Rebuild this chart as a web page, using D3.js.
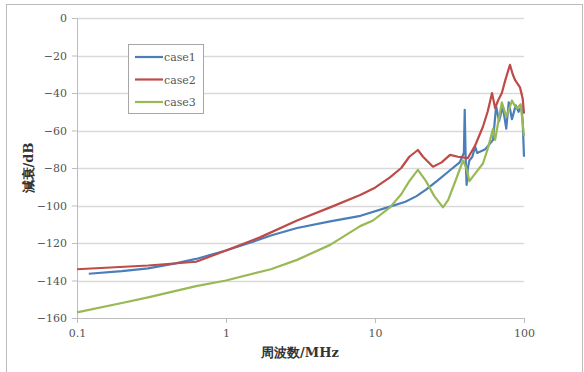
<!DOCTYPE html>
<html>
<head>
<meta charset="utf-8">
<script src="https://cdn.jsdelivr.net/npm/d3@7"></script>
<style>
  body { margin: 0; background: #fff; }
</style>
</head>
<body>
<svg width="584" height="372"></svg>
<script>
// frequency MHz, attenuation dB
var case1 = [[0.12,-136.4],[0.2,-135],[0.3,-133.5],[0.45,-131],[0.63,-128.5],[1,-124],[1.5,-119.5],[2,-116],[3,-112],[5,-108.5],[8,-105.5],[12.6,-100.6],[16,-98],[19,-95],[22,-91.5],[26,-87],[31,-82],[37,-77],[39.5,-72],[40,-49],[40.6,-75],[41.2,-89],[42,-80],[43,-76],[45,-74],[47,-68.6],[48.5,-72],[55,-70],[62,-65],[65,-47],[68,-55],[72,-47],[76,-59],[79,-45],[83,-54],[88,-46.6],[92,-50],[96,-47],[98,-55],[100,-74]];
var case2 = [[0.1,-134],[0.3,-132],[0.63,-130],[1,-124],[1.69,-117],[3,-108],[5,-101],[7.95,-94.4],[10,-90.5],[12.6,-85],[15,-80],[17,-74],[19.4,-70.4],[21,-74],[24.5,-79.3],[28,-77],[31.9,-73],[36,-74],[42,-74.7],[47,-68],[53,-58],[57,-50],[59,-45],[61,-40],[64,-48],[67,-44],[71,-40],[75,-33],[80.5,-25],[84,-30],[87,-33],[94,-37],[98,-43],[100,-51]];
var case3 = [[0.1,-157],[0.2,-152],[0.3,-149],[0.63,-143],[1,-140],[2,-134],[3,-129],[5,-121],[7.95,-111],[9.7,-108],[12.6,-101],[15,-94],[17,-87],[19.4,-81],[22,-87],[25,-95],[28.6,-101],[31,-97],[35,-86],[39,-76],[41,-80],[43,-87],[47,-83],[53,-77.6],[57,-70],[62,-59],[64,-65],[67,-56],[71,-45],[76,-52.6],[80,-48],[83,-44],[87,-47],[90,-48],[95,-46],[100,-63]];
var seriesNames = ["case1", "case2", "case3"];
var colors = ["#4a7ebb", "#be4b48", "#98b954"];
var xTicks = [0.1, 1, 10, 100];
var yTicks = [0, -20, -40, -60, -80, -100, -120, -140, -160];

var serif = "DejaVu Serif, Liberation Serif, serif";

var svg = d3.select("svg");
var margin = { left: 77, top: 18, right: 60, bottom: 54 };
var width = 584 - margin.left - margin.right;
var height = 372 - margin.top - margin.bottom;

svg.append("rect")
    .attr("x", 6.5).attr("y", 4.5)
    .attr("width", 576).attr("height", 380)
    .attr("fill", "none").attr("stroke", "#bcbcbc");

var g = svg.append("g")
    .attr("transform", "translate(" + margin.left + "," + margin.top + ")");

var x = d3.scaleLog().domain([0.1, 100]).range([0, width]);
var y = d3.scaleLinear().domain([-160, 0]).range([height, 0]);

// gridlines
g.selectAll(".grid")
    .data(yTicks.slice(0, -1))
    .enter().append("line")
    .attr("x1", 0).attr("x2", width)
    .attr("y1", function (d) { return Math.round(y(d)) + 0.5; })
    .attr("y2", function (d) { return Math.round(y(d)) + 0.5; })
    .attr("stroke", "#d9d9d9").attr("stroke-width", 1.5);

var yAxis = g.append("g")
    .call(d3.axisLeft(y).tickValues(yTicks).tickSize(5).tickPadding(5).tickFormat(d3.format("d")));
var xAxis = g.append("g")
    .attr("transform", "translate(0," + height + ")")
    .call(d3.axisBottom(x).tickValues(xTicks).tickSize(5).tickPadding(6).tickFormat(function (d) { return String(d); }));
[yAxis, xAxis].forEach(function (a) {
    a.attr("font-family", serif).attr("font-size", 11);
    a.selectAll("path, line").attr("stroke", "#bdbdbd");
    a.selectAll("text").attr("fill", "#555");
});

var line = d3.line()
    .x(function (d) { return x(d[0]); })
    .y(function (d) { return y(d[1]); });

[case1, case2, case3].forEach(function (data, i) {
    g.append("path")
        .datum(data)
        .attr("fill", "none")
        .attr("stroke", colors[i])
        .attr("stroke-width", 2.2)
        .attr("stroke-linejoin", "round")
        .attr("d", line);
});

svg.append("text")
    .attr("x", 300).attr("y", 357).attr("text-anchor", "middle")
    .attr("font-family", serif).attr("font-size", 13).attr("font-weight", "bold").attr("fill", "#333")
    .text("周波数/MHz");
svg.append("text")
    .attr("transform", "translate(33,168) rotate(-90)")
    .attr("text-anchor", "middle")
    .attr("font-family", serif).attr("font-size", 13).attr("font-weight", "bold").attr("fill", "#333")
    .text("減衰/dB");

var legend = svg.append("g");
legend.append("rect")
    .attr("x", 128.5).attr("y", 44.5).attr("width", 75).attr("height", 69)
    .attr("fill", "#fff").attr("stroke", "#a6a6a6");
seriesNames.forEach(function (name, i) {
    var ly = 57 + i * 22.5;
    legend.append("line")
        .attr("x1", 135).attr("x2", 163).attr("y1", ly).attr("y2", ly)
        .attr("stroke", colors[i]).attr("stroke-width", 2.2);
    legend.append("text")
        .attr("x", 164).attr("y", ly + 4)
        .attr("font-family", serif).attr("font-size", 11).attr("fill", "#555")
        .text(name);
});
</script>
</body>
</html>
